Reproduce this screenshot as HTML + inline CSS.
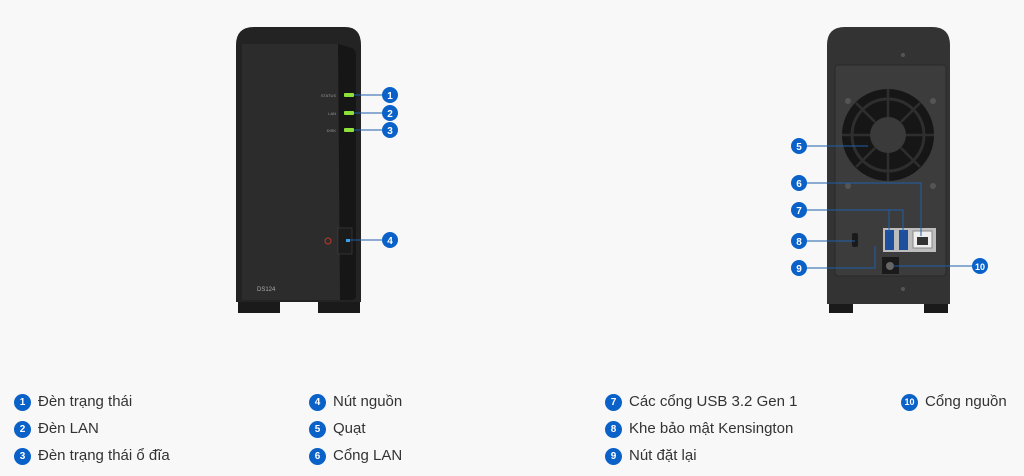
<!DOCTYPE html>
<html><head><meta charset="utf-8"><style>
html,body{margin:0;padding:0;background:#f8f8f8;}
body{width:1024px;height:476px;position:relative;overflow:hidden;font-family:"Liberation Sans",sans-serif;}
.it{position:absolute;font-size:15px;color:#333;height:18px;line-height:18px;}
.it b{position:absolute;left:0;top:1px;width:17px;height:17px;border-radius:50%;background:#0a62c9;color:#fff;font-size:10px;text-align:center;line-height:17px;font-weight:bold;}
.it span{position:absolute;left:24px;top:0;white-space:nowrap;}
</style></head><body>
<svg width="1024" height="476" style="position:absolute;left:0;top:0">
<!-- front device -->
<rect x="238" y="300" width="42" height="13" fill="#1a1a1a"/>
<rect x="318" y="300" width="42" height="13" fill="#1a1a1a"/>
<path d="M236 45 Q236 27 254 27 L345 27 Q361 27 361 45 L361 302 L236 302 Z" fill="#232323"/>
<path d="M242 44 L338 44 Q340 44 340 48 L340 300 L242 300 Z" fill="#2c2c2c"/>
<path d="M338 44 L352 48 Q356 50 356 56 L356 296 Q356 300 350 300 L340 300 Z" fill="#161616"/>
<rect x="344" y="93" width="10" height="4" rx="1" fill="#8de23a"/>
<rect x="344" y="111" width="10" height="4" rx="1" fill="#8de23a"/>
<rect x="344" y="128" width="10" height="4" rx="1" fill="#8de23a"/>
<text x="336" y="97" font-size="4" fill="#999" text-anchor="end" font-family="Liberation Sans">STATUS</text>
<text x="336" y="115" font-size="4" fill="#999" text-anchor="end" font-family="Liberation Sans">LAN</text>
<text x="336" y="132" font-size="4" fill="#999" text-anchor="end" font-family="Liberation Sans">DISK</text>
<rect x="338" y="228" width="14" height="26" fill="#1b1b1b" stroke="#444" stroke-width="0.6"/>
<circle cx="328" cy="241" r="3" fill="none" stroke="#c0392b" stroke-width="1"/>
<rect x="346" y="239" width="4" height="3" fill="#39a0f0"/>
<text x="257" y="291" font-size="6" fill="#aaa" font-family="Liberation Sans">DS124</text>
<g stroke="#1e5fa8" stroke-width="1">
<line x1="354" y1="95" x2="384" y2="95"/><line x1="354" y1="113" x2="384" y2="113"/><line x1="354" y1="130" x2="384" y2="130"/><line x1="350" y1="240" x2="384" y2="240"/>
</g>
<!-- back device -->
<rect x="829" y="300" width="24" height="13" fill="#1a1a1a"/>
<rect x="924" y="300" width="24" height="13" fill="#1a1a1a"/>
<path d="M827 45 Q827 27 845 27 L932 27 Q950 27 950 45 L950 304 L827 304 Z" fill="#333"/>
<rect x="835" y="65" width="111" height="211" rx="3" fill="#3c3c3c" stroke="#2a2a2a"/>
<circle cx="888" cy="135" r="46" fill="#161616"/>
<circle cx="888" cy="135" r="36" fill="none" stroke="#2e2e2e" stroke-width="3"/>
<circle cx="888" cy="135" r="18" fill="#3a3a3a"/>
<g stroke="#2e2e2e" stroke-width="2.5"><line x1="888" y1="89" x2="888" y2="117"/><line x1="888" y1="153" x2="888" y2="181"/><line x1="842" y1="135" x2="870" y2="135"/><line x1="906" y1="135" x2="934" y2="135"/><line x1="856" y1="103" x2="875" y2="122"/><line x1="901" y1="148" x2="920" y2="167"/><line x1="920" y1="103" x2="901" y2="122"/><line x1="875" y1="148" x2="856" y2="167"/></g>
<circle cx="848" cy="101" r="3" fill="#555"/><circle cx="933" cy="101" r="3" fill="#555"/><circle cx="848" cy="186" r="3" fill="#555"/><circle cx="933" cy="186" r="3" fill="#555"/>
<circle cx="903" cy="55" r="2" fill="#555"/><circle cx="903" cy="289" r="2" fill="#555"/>
<rect x="852" y="233" width="6" height="14" rx="2" fill="#1a1a1a"/>
<rect x="883" y="228" width="53" height="24" fill="#bdbdbd"/>
<rect x="885" y="230" width="9" height="20" fill="#1d4f9e"/><rect x="899" y="230" width="9" height="20" fill="#1d4f9e"/>
<rect x="913" y="231" width="19" height="17" fill="#eee" stroke="#888"/><rect x="917" y="237" width="11" height="8" fill="#333"/>
<rect x="882" y="257" width="17" height="17" fill="#1a1a1a"/><circle cx="890" cy="266" r="4" fill="#666"/>
<g stroke="#1e5fa8" stroke-width="1" fill="none">
<line x1="806" y1="146" x2="868" y2="146"/>
<polyline points="806,183 921,183 921,236"/>
<polyline points="806,210 903,210 903,232"/><line x1="889" y1="210" x2="889" y2="232"/>
<line x1="806" y1="241" x2="855" y2="241"/>
<polyline points="806,268 875,268 875,246"/>
<line x1="893" y1="266" x2="973" y2="266"/>
</g>
<!-- badges -->
<g font-family="Liberation Sans" font-size="10" font-weight="bold" fill="#fff" text-anchor="middle">
<circle cx="390" cy="95" r="8" fill="#0a62c9"/><text x="390" y="99">1</text>
<circle cx="390" cy="113" r="8" fill="#0a62c9"/><text x="390" y="117">2</text>
<circle cx="390" cy="130" r="8" fill="#0a62c9"/><text x="390" y="134">3</text>
<circle cx="390" cy="240" r="8" fill="#0a62c9"/><text x="390" y="244">4</text>
<circle cx="799" cy="146" r="8" fill="#0a62c9"/><text x="799" y="150">5</text>
<circle cx="799" cy="183" r="8" fill="#0a62c9"/><text x="799" y="187">6</text>
<circle cx="799" cy="210" r="8" fill="#0a62c9"/><text x="799" y="214">7</text>
<circle cx="799" cy="241" r="8" fill="#0a62c9"/><text x="799" y="245">8</text>
<circle cx="799" cy="268" r="8" fill="#0a62c9"/><text x="799" y="272">9</text>
<circle cx="980" cy="266" r="8" fill="#0a62c9"/><text x="980" y="270" font-size="9">10</text>
</g>
</svg>
<div class="it" style="left:14px;top:393px"><b>1</b><span>Đèn trạng thái</span></div>
<div class="it" style="left:14px;top:420px"><b>2</b><span>Đèn LAN</span></div>
<div class="it" style="left:14px;top:447px"><b>3</b><span>Đèn trạng thái ổ đĩa</span></div>
<div class="it" style="left:309px;top:393px"><b>4</b><span>Nút nguồn</span></div>
<div class="it" style="left:309px;top:420px"><b>5</b><span>Quạt</span></div>
<div class="it" style="left:309px;top:447px"><b>6</b><span>Cổng LAN</span></div>
<div class="it" style="left:605px;top:393px"><b>7</b><span>Các cổng USB 3.2 Gen 1</span></div>
<div class="it" style="left:605px;top:420px"><b>8</b><span>Khe bảo mật Kensington</span></div>
<div class="it" style="left:605px;top:447px"><b>9</b><span>Nút đặt lại</span></div>
<div class="it" style="left:901px;top:393px"><b style="font-size:9px">10</b><span>Cổng nguồn</span></div>
</body></html>
